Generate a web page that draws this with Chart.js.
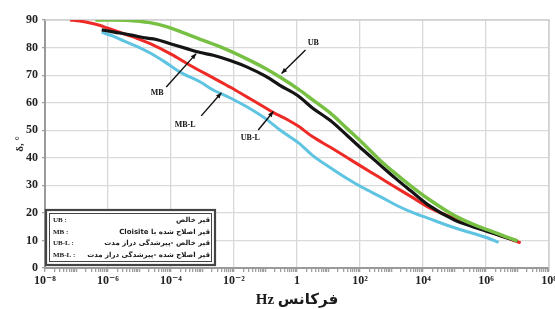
<!DOCTYPE html>
<html><head><meta charset="utf-8">
<script src="https://cdn.jsdelivr.net/npm/chart.js@4.4.1/dist/chart.umd.min.js"></script>
<style>html,body{margin:0;padding:0;background:#fff}canvas{display:block}</style>
</head><body><canvas id="c" width="555" height="309"></canvas>
<script>
// ---- data (x = log10 of frequency in Hz, y = phase angle in degrees) ----
const seriesNames = ['UB', 'MB', 'UB-L', 'MB-L'];
const seriesDescriptions = [
  'قیر خالص',
  'قیر اصلاح شده با Cloisite',
  'قیر خالص -پیرشدگی دراز مدت',
  'قیر اصلاح شده -پیرشدگی دراز مدت'
];
const ubLogF = [-6.4, -5.8, -5.0, -4.4, -3.7, -3.07, -2.3, -1.58, -1.0, -0.53, 0.05, 0.5, 1.06, 1.6, 2.08, 2.6, 3.1, 3.61, 4.15, 5.0, 5.6, 6.06, 6.6, 7.0];
const ubVal  = [90, 90, 89.5, 88.4, 85.8, 83.0, 79.6, 75.8, 72.4, 69.2, 64.8, 61.0, 56.2, 50.5, 45.4, 39.5, 34.5, 29.8, 25.2, 19.0, 15.8, 13.8, 11.5, 9.8];
const mbLogF = [-6.2, -5.8, -5.3, -4.76, -4.5, -4.0, -3.5, -3.07, -2.66, -2.1, -1.58, -1.0, -0.53, 0.02, 0.5, 1.06, 1.6, 2.08, 2.6, 3.1, 3.61, 4.15, 5.0, 5.6, 6.06, 6.6, 7.0];
const mbVal  = [86.4, 85.6, 84.6, 83.4, 83.0, 81.3, 79.6, 78.2, 77.2, 75.2, 72.9, 69.6, 66.2, 62.6, 58.0, 53.5, 48.0, 43.0, 37.8, 32.8, 28.0, 23.0, 17.4, 14.9, 13.2, 11.2, 9.8];
const ublLogF = [-7.2, -6.9, -6.6, -6.3, -6.0, -5.5, -5.0, -4.66, -4.0, -3.4, -2.66, -2.1, -1.58, -1.1, -0.75, -0.3, 0.05, 0.5, 1.06, 1.6, 2.08, 2.6, 3.1, 3.61, 4.15, 5.0, 5.6, 6.06, 6.6, 7.1];
const ublVal  = [90, 89.6, 89.0, 88.2, 87.0, 85.0, 83.0, 81.4, 77.6, 73.6, 69.0, 65.5, 62.0, 58.8, 56.4, 53.8, 51.4, 47.6, 43.8, 40.0, 36.6, 33.0, 29.5, 26.0, 22.2, 18.0, 15.5, 13.4, 11.2, 9.1];
const mblLogF = [-6.2, -5.8, -5.5, -5.0, -4.66, -4.2, -3.7, -3.07, -2.66, -2.1, -1.58, -1.0, -0.53, 0.05, 0.5, 1.06, 1.6, 2.08, 2.66, 3.2, 3.7, 4.15, 5.0, 5.6, 6.06, 6.4];
const mblVal  = [85.5, 84.0, 82.4, 80.0, 78.0, 74.8, 71.0, 67.5, 64.6, 61.6, 58.4, 54.2, 50.0, 45.4, 40.8, 36.4, 32.4, 29.2, 25.8, 22.5, 20.0, 18.1, 14.6, 12.5, 10.9, 9.3];

const xTickExponents = [-8, -6, -4, -2, 0, 2, 4, 6, 8];
const xTickLabels = ['10⁻⁸', '10⁻⁶', '10⁻⁴', '10⁻²', '1', '10²', '10⁴', '10⁶', '10⁸'];
const yTickStep = 10;

// curve call-outs: label, text anchor, arrow tail, arrow head (log10 Hz, degrees)
const annoNames   = ['UB', 'MB', 'MB-L', 'UB-L'];
const annoTextExp = [0.52, -4.44, -3.55, -1.48];
const annoTextVal = [81.6, 63.5, 51.9, 47.2];
const annoTailExp = [0.27, -4.15, -3.04, -1.23];
const annoTailVal = [79.1, 65.7, 55.2, 50.1];
const annoHeadExp = [-0.49, -3.2, -2.4, -0.75];
const annoHeadVal = [70.6, 77.8, 63.6, 56.8];

const toPts = (lf, v) => lf.map((e, i) => ({ x: Math.pow(10, e), y: v[i] }));
const colors = ['#78c044', '#141414', '#ee2a26', '#5fc4e2'];
const serif = "'Liberation Serif','DejaVu Serif',serif";
const arabic = "'DejaVu Sans','Noto Sans',sans-serif";

const decor = {
  id: 'decor',
  beforeDatasetsDraw(chart) {
    const { ctx, chartArea: a } = chart;
    ctx.save();
    ctx.strokeStyle = '#d0d0d0';
    ctx.lineWidth = 1.5;
    ctx.beginPath();
    ctx.moveTo(a.left, a.top); ctx.lineTo(a.right, a.top); ctx.lineTo(a.right, a.bottom);
    ctx.stroke();
    ctx.restore();
  },
  afterDraw(chart) {
    const { ctx, chartArea: a, scales } = chart;
    const sx = scales.x, sy = scales.y;
    ctx.save();
    // call-outs
    ctx.strokeStyle = '#111'; ctx.fillStyle = '#111'; ctx.lineWidth = 1.4;
    annoNames.forEach((n, i) => {
      const tx = sx.getPixelForValue(Math.pow(10, annoTailExp[i])), ty = sy.getPixelForValue(annoTailVal[i]);
      const hx = sx.getPixelForValue(Math.pow(10, annoHeadExp[i])), hy = sy.getPixelForValue(annoHeadVal[i]);
      ctx.beginPath(); ctx.moveTo(tx, ty); ctx.lineTo(hx, hy); ctx.stroke();
      const ang = Math.atan2(hy - ty, hx - tx), L = 6, W = 0.4;
      ctx.beginPath();
      ctx.moveTo(hx, hy);
      ctx.lineTo(hx - L * Math.cos(ang - W), hy - L * Math.sin(ang - W));
      ctx.lineTo(hx - L * Math.cos(ang + W), hy - L * Math.sin(ang + W));
      ctx.closePath(); ctx.fill();
      ctx.font = 'bold 8px ' + serif;
      ctx.textAlign = 'center'; ctx.textBaseline = 'middle';
      ctx.fillText(n, sx.getPixelForValue(Math.pow(10, annoTextExp[i])), sy.getPixelForValue(annoTextVal[i]));
    });
    // legend box
    const bl = a.left + 1, bt = a.bottom - 58, bw = 169, bh = 55;
    ctx.fillStyle = '#fff';
    ctx.fillRect(bl, bt, bw, bh);
    ctx.strokeStyle = '#444'; ctx.lineWidth = 2.2;
    ctx.strokeRect(bl, bt, bw, bh);
    ctx.lineWidth = 1;
    ctx.strokeRect(bl + 3.5, bt + 3.5, bw - 7, bh - 7);
    ctx.fillStyle = '#1a1a1a';
    ctx.textBaseline = 'middle';
    seriesNames.forEach((n, i) => {
      const y = bt + 10 + i * 11.8;
      ctx.font = 'bold 7px ' + serif;
      ctx.textAlign = 'left'; ctx.direction = 'ltr';
      ctx.fillText(n + ' :', bl + 7, y);
      ctx.font = 'bold 7px ' + arabic;
      ctx.direction = 'rtl'; ctx.textAlign = 'right';
      ctx.fillText(seriesDescriptions[i], bl + bw - 5, y);
    });
    ctx.restore();
  }
};

new Chart(document.getElementById('c'), {
  type: 'line',
  data: {
    datasets: [
      { label: seriesNames[0], data: toPts(ubLogF, ubVal), borderColor: colors[0], borderWidth: 3.5 },
      { label: seriesNames[1], data: toPts(mbLogF, mbVal), borderColor: colors[1], borderWidth: 3.2 },
      { label: seriesNames[2], data: toPts(ublLogF, ublVal), borderColor: colors[2], borderWidth: 3 },
      { label: seriesNames[3], data: toPts(mblLogF, mblVal), borderColor: colors[3], borderWidth: 3 }
    ].map(d => Object.assign(d, { pointRadius: 0, cubicInterpolationMode: 'monotone', fill: false }))
  },
  options: {
    responsive: false, animation: false, devicePixelRatio: 1,
    layout: { padding: { top: 20, right: 6, left: 0, bottom: 0 } },
    plugins: { legend: { display: false }, tooltip: { enabled: false } },
    scales: {
      x: {
        type: 'logarithmic', min: 1e-8, max: 1e8,
        afterBuildTicks(scale) {
          const t = [];
          for (let e = -8; e <= 8; e++) {
            for (let k = 1; k <= 9; k++) {
              if (e === 8 && k > 1) break;
              const idx = xTickExponents.indexOf(e);
              t.push({ value: k * Math.pow(10, e), lbl: (k === 1 && idx >= 0) ? xTickLabels[idx] : '' });
            }
          }
          scale.ticks = t;
        },
        afterFit(scale) { scale.height = 41; scale.paddingRight = 0; },
        ticks: {
          autoSkip: false, maxRotation: 0, minRotation: 0, padding: 2,
          callback: (v, i, ticks) => ticks[i].lbl,
          font: { family: serif, weight: 'bold', size: 12 }, color: '#222'
        },
        grid: {
          color: c => (c.tick && c.tick.lbl) ? '#d8d8d8' : 'rgba(0,0,0,0)',
          tickColor: '#a0a0a0', tickLength: 4, lineWidth: 1.3
        },
        border: { color: '#9a9a9a', width: 2 },
        title: {
          display: true, text: '\u202Bفرکانس Hz\u202C', color: '#1a1a1a',
          font: { family: serif + ",'DejaVu Sans'", weight: 'bold', size: 15 }, padding: { top: 0, bottom: 0 }
        }
      },
      y: {
        min: 0, max: 90,
        afterFit(scale) { scale.width = 45; },
        ticks: { stepSize: yTickStep, padding: 4, font: { family: serif, weight: 'bold', size: 12 }, color: '#222' },
        grid: { color: '#dadada', lineWidth: 1.2, tickLength: 3, tickColor: '#a0a0a0' },
        border: { color: '#9a9a9a', width: 2 },
        title: { display: true, text: 'δ, °', color: '#222', font: { family: serif, weight: 'bold', size: 11 }, padding: { top: 14, bottom: 0 } }
      }
    }
  },
  plugins: [decor]
});
</script></body></html>
